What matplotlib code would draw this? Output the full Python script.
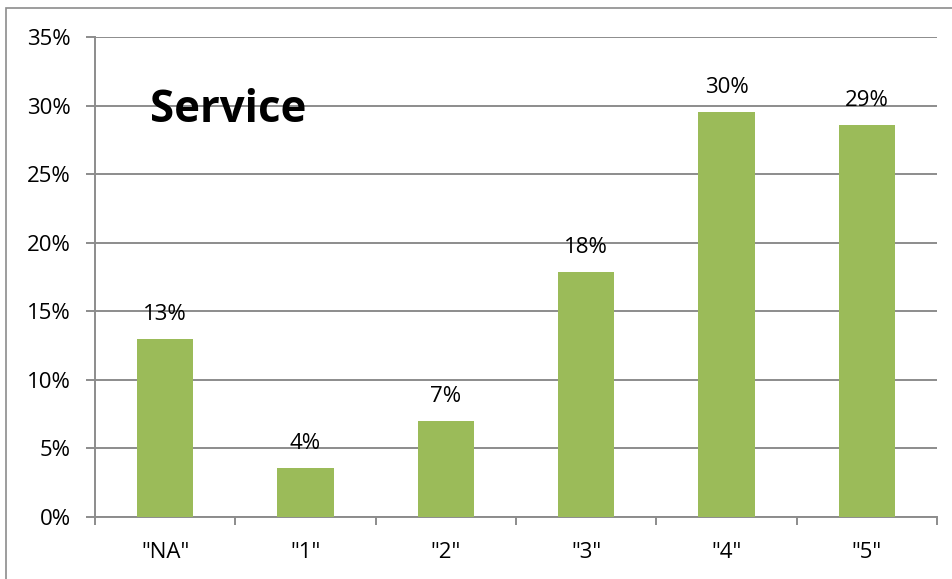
import matplotlib.pyplot as plt
from matplotlib.patches import Rectangle
from matplotlib.ticker import FixedLocator, PercentFormatter

categories = ['"NA"', '"1"', '"2"', '"3"', '"4"', '"5"']
values = [12.98, 3.57, 7.0, 17.87, 29.54, 28.6]
labels = ["13%", "4%", "7%", "18%", "30%", "29%"]

plt.rcParams["font.family"] = ["Open Sans", "DejaVu Sans"]
GRAY = "#8c8c8c"

fig = plt.figure(figsize=(9.53, 5.79), dpi=100)
ax = fig.add_axes([95 / 953, 1 - 517 / 579, (937 - 95) / 953, (517 - 37) / 579])

x = range(len(categories))
bars = ax.bar(x, values, width=0.4, color="#9BBB59", zorder=3)
for b, lab in zip(bars, labels):
    ax.annotate(lab, (b.get_x() + b.get_width() / 2, b.get_height()),
                xytext=(0, 10), textcoords="offset points",
                ha="center", va="bottom", fontsize=16)

ax.set_xlim(-0.5, len(categories) - 0.5)
ax.set_ylim(0, 35)
ax.set_yticks(range(0, 36, 5))
ax.yaxis.set_major_formatter(PercentFormatter(decimals=0))
ax.grid(axis="y", color=GRAY, linewidth=1.4, zorder=0)

ax.set_xticks(list(x))
ax.set_xticklabels(categories)
ax.xaxis.set_minor_locator(FixedLocator([i - 0.5 for i in range(len(categories) + 1)]))
ax.tick_params(axis="x", which="major", length=0, pad=18, labelsize=16)
ax.tick_params(axis="x", which="minor", length=6, width=1.4, color=GRAY, direction="out")
ax.tick_params(axis="y", length=6.5, width=1.4, color=GRAY, labelsize=16, pad=11)

for side in ["top", "right"]:
    ax.spines[side].set_visible(False)
for side in ["left", "bottom"]:
    ax.spines[side].set_color(GRAY)
    ax.spines[side].set_linewidth(1.4)

ax.text(150 / 953, 1 - 111 / 579, "Service", transform=fig.transFigure,
        fontsize=31.5, fontweight="bold", va="center", ha="left")

fig.add_artist(Rectangle((6 / 953, -0.1), 1.2, 1 - 8 / 579 + 0.1,
                         transform=fig.transFigure, fill=False,
                         edgecolor=GRAY, linewidth=1.2))

fig.savefig("out.png", dpi=100)
